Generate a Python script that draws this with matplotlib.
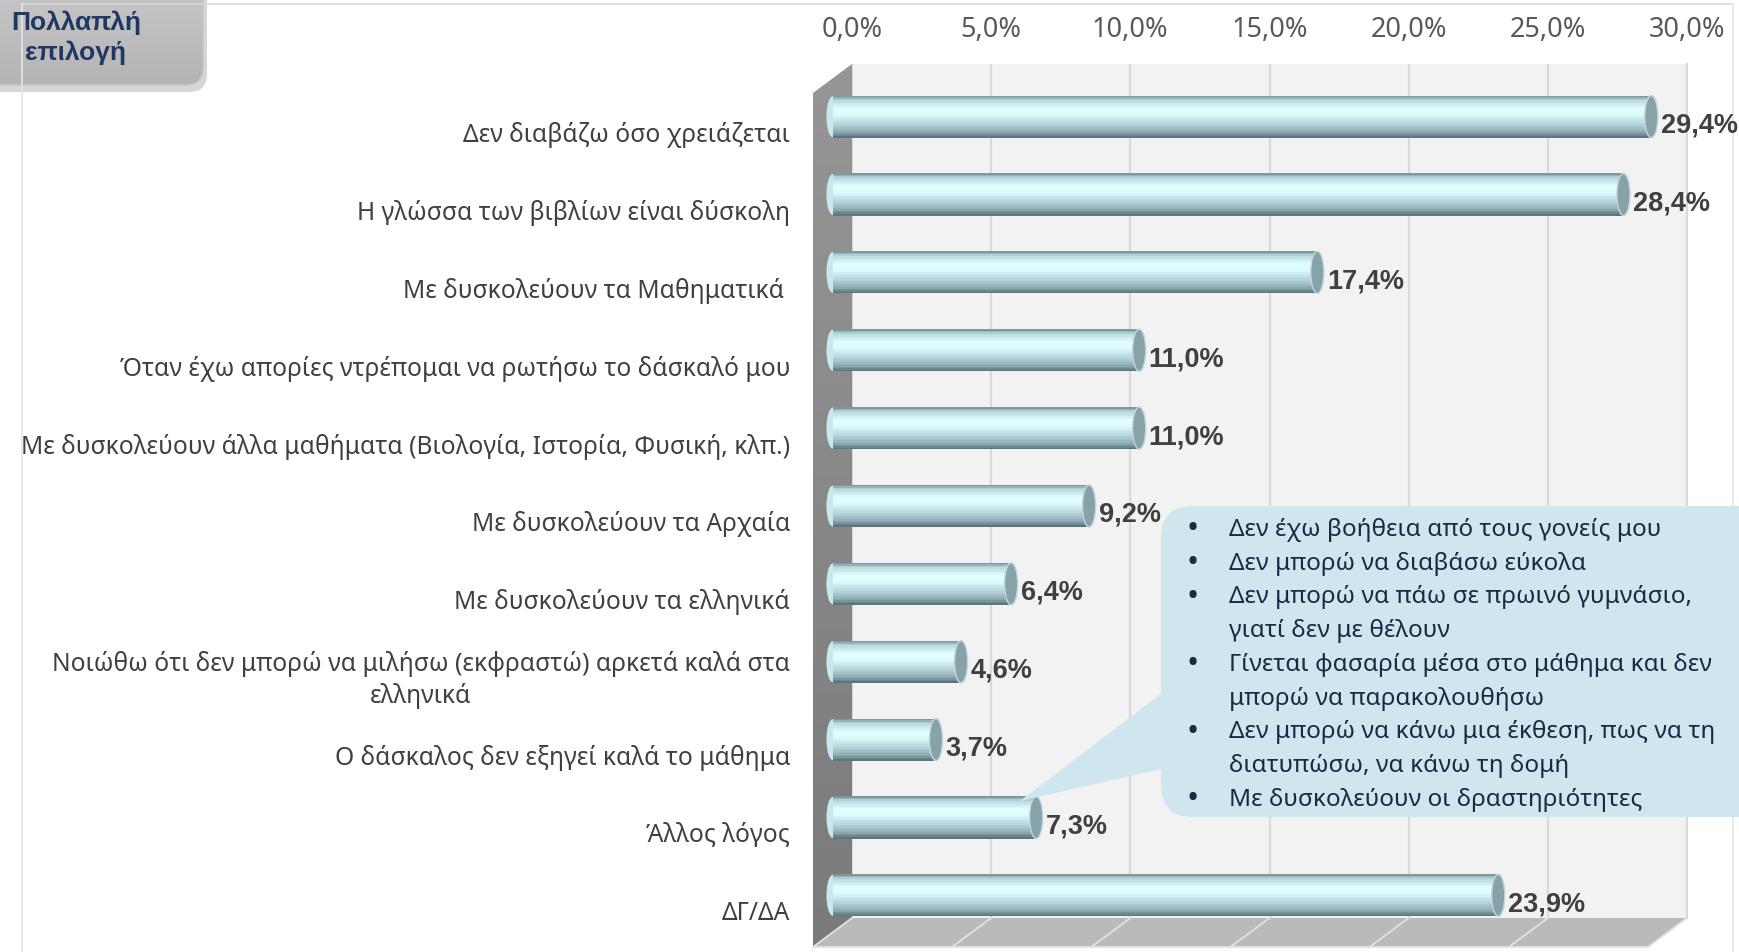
"""
Bar chart: reasons for difficulty at school (multiple choice), 3D cylinder look
"""

import matplotlib
matplotlib.use('Agg')
import matplotlib.pyplot as plt
import numpy as np
from matplotlib.patches import Ellipse, Polygon, FancyBboxPatch
from matplotlib.colors import LinearSegmentedColormap
from matplotlib.transforms import Affine2D, blended_transform_factory, ScaledTranslation
from matplotlib.ticker import FuncFormatter

plt.rcParams['font.family'] = ['Noto Sans', 'DejaVu Sans']
BOLD_FAMILY = ['Liberation Sans', 'DejaVu Sans']

# --- data ---
categories = [
    'Δεν διαβάζω όσο χρειάζεται',
    'Η γλώσσα των βιβλίων είναι δύσκολη',
    'Με δυσκολεύουν τα Μαθηματικά ',
    'Όταν έχω απορίες ντρέπομαι να ρωτήσω το δάσκαλό μου',
    'Με δυσκολεύουν άλλα μαθήματα (Βιολογία, Ιστορία, Φυσική, κλπ.)',
    'Με δυσκολεύουν τα Αρχαία',
    'Με δυσκολεύουν τα ελληνικά',
    'Νοιώθω ότι δεν μπορώ να μιλήσω (εκφραστώ) αρκετά καλά στα\nελληνικά',
    'Ο δάσκαλος δεν εξηγεί καλά το μάθημα',
    'Άλλος λόγος',
    'ΔΓ/ΔΑ',
]
values = [29.4, 28.4, 17.4, 11.0, 11.0, 9.2, 6.4, 4.6, 3.7, 7.3, 23.9]
x_ticks = [0, 5, 10, 15, 20, 25, 30]

callout_lines = [
    (True, 'Δεν έχω βοήθεια από τους γονείς μου'),
    (True, 'Δεν μπορώ να διαβάσω εύκολα'),
    (True, 'Δεν μπορώ να πάω σε πρωινό γυμνάσιο,'),
    (False, 'γιατί δεν με θέλουν'),
    (True, 'Γίνεται φασαρία μέσα στο μάθημα και δεν'),
    (False, 'μπορώ να παρακολουθήσω'),
    (True, 'Δεν μπορώ να κάνω μια έκθεση, πως να τη'),
    (False, 'διατυπώσω, να κάνω τη δομή'),
    (True, 'Με δυσκολεύουν οι δραστηριότητες'),
]
box_title = 'Πολλαπλή\nεπιλογή'

# --- layout (pixels) ---
W, H = 1739, 953
DPI = 100
back_l, back_r, back_t, back_b = 852, 1687, 65, 919
depth_dx, depth_dy = -39, 29      # front plane offset
bar_dx, bar_dy = -19, 18.6        # bars sit between back and front
n = len(categories)
y_top, y_bot = -0.437, 10.53

fig = plt.figure(figsize=(W / DPI, H / DPI), dpi=DPI)
fig.patch.set_facecolor('white')

# background overlay in pixel coords
bg = fig.add_axes([0, 0, 1, 1], zorder=0)
bg.set_xlim(0, W)
bg.set_ylim(H, 0)
bg.axis('off')

# frame lines
bg.plot([22, 1733], [5, 5], color='#d9d9d9', lw=1.2)
bg.plot([22, 22], [5, H], color='#e6e6e6', lw=1.2)
bg.plot([1733, 1733], [5, H], color='#e6e6e6', lw=1.2)

# left side wall (darker towards the bottom)
wall = Polygon([(back_l, back_t), (back_l, back_b),
                (back_l + depth_dx, back_b + depth_dy),
                (back_l + depth_dx, back_t + depth_dy)],
               closed=True, facecolor='none', edgecolor='none')
bg.add_patch(wall)
wall_cmap = LinearSegmentedColormap.from_list('wall', ['#969696', '#7a7a7a'])
im = bg.imshow(np.linspace(0, 1, 100).reshape(-1, 1), cmap=wall_cmap, aspect='auto',
               extent=(back_l + depth_dx, back_l, back_b + depth_dy, back_t),
               interpolation='bilinear')
im.set_clip_path(wall)
bg.set_xlim(0, W)
bg.set_ylim(H, 0)

# floor
bg.add_patch(Polygon([(back_l, back_b), (back_r, back_b),
                      (back_r + depth_dx, back_b + depth_dy),
                      (back_l + depth_dx, back_b + depth_dy)],
                     closed=True, facecolor='#bababa', edgecolor='none'))
px_per = (back_r - back_l) / 30.0
for t in x_ticks:
    xb = back_l + t * px_per
    bg.plot([xb, xb + depth_dx], [back_b, back_b + depth_dy], color='#e3e3e3', lw=1.3)
bg.plot([back_l + depth_dx, back_r + depth_dx], [back_b + depth_dy, back_b + depth_dy],
        color='#e3e3e3', lw=1.3)

# title box top-left
bg.add_patch(FancyBboxPatch((-40, -40), 247, 133,
                            boxstyle='round,pad=0,rounding_size=18',
                            facecolor='#9a9a9a', edgecolor='none', alpha=0.4))
tbox = FancyBboxPatch((-40, -40), 243, 126, boxstyle='round,pad=0,rounding_size=18',
                      facecolor='none', edgecolor='#c4c4c4', lw=1)
bg.add_patch(tbox)
box_cmap = LinearSegmentedColormap.from_list('box', ['#ececec', '#dadada', '#c6c6c6'])
im2 = bg.imshow(np.linspace(0, 1, 100).reshape(-1, 1), cmap=box_cmap, aspect='auto',
                extent=(-40, 203, 86, -40), interpolation='bilinear', zorder=0.5)
im2.set_clip_path(tbox)
bg.set_xlim(0, W)
bg.set_ylim(H, 0)
bg.text(76, 38, box_title, ha='center', va='center', fontsize=19, fontweight='bold',
        family=BOLD_FAMILY, color='#1f3864', linespacing=1.3)

# --- main axes = back wall ---
ax = fig.add_axes([back_l / W, 1 - back_b / H, (back_r - back_l) / W, (back_b - back_t) / H],
                  zorder=1)
ax.set_facecolor('#f2f2f2')
ax.set_xlim(0, 30)
ax.set_ylim(y_bot, y_top)
for s in ['left', 'bottom', 'top']:
    ax.spines[s].set_visible(False)
ax.spines['right'].set_color('#d9d9d9')
ax.spines['right'].set_linewidth(1.5)
ax.set_xticks(x_ticks)
ax.xaxis.tick_top()
ax.xaxis.set_major_formatter(FuncFormatter(lambda v, p: f'{v:.1f}%'.replace('.', ',')))
ax.tick_params(axis='x', length=0, pad=15, labelsize=19.5, labelcolor='#595959')
ax.set_yticks([])
ax.grid(axis='x', color='#d9d9d9', lw=1.5)
ax.set_axisbelow(True)

bar_tr = ax.transData + Affine2D().translate(bar_dx, -bar_dy)
lab_tr = ax.transData + Affine2D().translate(bar_dx + 3, -bar_dy - 8)

cyl = LinearSegmentedColormap.from_list('cyl', [
    (0.0, '#7d98a0'), (0.08, '#b8d5db'), (0.3, '#e0ffff'), (0.45, '#dcfbfd'),
    (0.7, '#b4d1d7'), (0.88, '#8fabb2'), (1.0, '#5c767e')])
bar_h = 0.54
cap_w = 0.47
N = 28
ypos = np.arange(n)
for i, v in enumerate(values):
    yc = ypos[i]
    strip_h = bar_h / N
    # rounded left end
    ax.add_patch(Ellipse((0, yc), cap_w, bar_h * 0.98, facecolor='#c9e8ee',
                         edgecolor='none', transform=bar_tr, clip_on=False, zorder=2.9))
    for k in range(N):
        ax.barh(yc - bar_h / 2 + (k + 0.5) * strip_h, v, left=0,
                height=strip_h * 1.05, color=cyl(k / (N - 1)), edgecolor='none',
                transform=bar_tr, clip_on=False, zorder=3)
    # end cap
    ax.add_patch(Ellipse((v, yc), cap_w, bar_h, facecolor='#88a2aa', edgecolor='#c3d6db',
                         lw=1, transform=bar_tr, clip_on=False, zorder=4))
    ax.text(v + cap_w / 2, yc, f'{v:.1f}%'.replace('.', ','), transform=lab_tr,
            ha='left', va='center', fontsize=19.5, fontweight='bold', family=BOLD_FAMILY,
            color='#404040', clip_on=False, zorder=5)

# category labels
cat_tr = blended_transform_factory(ax.transAxes, ax.transData) + \
    ScaledTranslation(0, -36 / DPI, fig.dpi_scale_trans)
for i, c in enumerate(categories):
    ax.text((790 - back_l) / (back_r - back_l), ypos[i], c, transform=cat_tr,
            ha='right', va='center', multialignment='center', fontsize=17.7,
            color='#404040', linespacing=1.3)

# --- callout overlay ---
fg = fig.add_axes([0, 0, 1, 1], zorder=2)
fg.set_xlim(0, W)
fg.set_ylim(H, 0)
fg.axis('off')
fg.patch.set_alpha(0)
call_col = '#cfe6ef'
fg.add_patch(FancyBboxPatch((1161, 507), 620, 311,
                            boxstyle='round,pad=0,rounding_size=32',
                            facecolor=call_col, edgecolor='none'))
fg.add_patch(Polygon([(1170, 688), (1020, 802), (1170, 768)], closed=True,
                     facecolor=call_col, edgecolor='none'))
for j, (bullet, txt) in enumerate(callout_lines):
    yy = 530 + j * 33.75
    if bullet:
        fg.text(1193, yy, '•', ha='center', va='center', fontsize=23, color='#1a2a44')
    fg.text(1229, yy, txt, ha='left', va='center', fontsize=17.5, color='#1a2a44')

plt.savefig('out.png', dpi=DPI)
plt.close()
